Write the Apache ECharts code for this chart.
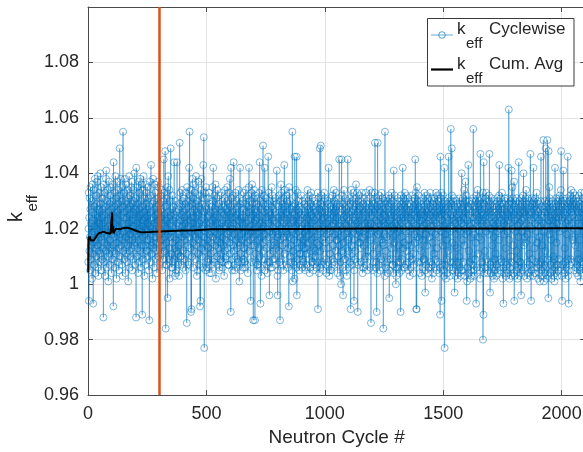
<!DOCTYPE html>
<html><head><meta charset="utf-8">
<script src="https://cdn.jsdelivr.net/npm/echarts@6/dist/echarts.min.js"></script>
<style>html,body{margin:0;padding:0;overflow:hidden;background:#fff;width:583px;height:452px}#c{width:600px;height:452px}</style>
</head><body><div id="c"></div><script>
// first neutron cycle number
const cycleStart = 1;
// k_eff per cycle, stored as (k_eff - 1) * 1000, one row = 50 cycles
const cyclewiseMilli = [
/* 1 */ 8,20,33,-6,24,12,31,17,5,27, 35,14,22,9,30,18,2,26,36,11, 23,-7,15,34,19,7,28,13,38,21, 4,25,16,32,10,29,20,37,6,24, 14,39,18,3,27,22,12,33,8,26,
/* 51 */ 17,40,11,29,21,5,35,16,24,9, 31,19,27,13,-12,22,36,8,25,15, 33,3,20,28,12,38,41,18,6,30, 23,14,34,10,26,1,19,37,21,11, 29,16,7,32,24,13,35,20,4,27,
/* 101 */ 18,30,9,25,36,14,-8,44,22,12, 28,17,33,6,24,39,11,20,31,2, 26,15,37,19,8,29,21,34,13,23, 5,32,17,49,10,27,18,38,14,25, 30,7,22,35,16,3,28,55,12,24,
/* 151 */ 33,19,9,26,38,15,21,4,30,17, 36,11,24,29,8,20,34,14,27,1, 22,31,16,39,12,25,6,32,18,28, 10,35,23,13,37,20,5,29,16,26, 34,9,21,30,14,40,19,7,27,23,
/* 201 */ 15,31,-12,42,18,26,10,35,22,13, 29,4,24,37,16,33,8,27,20,38, 12,25,6,30,19,36,14,21,-11,28, 17,34,9,23,39,11,26,3,31,18, 24,14,36,7,29,20,33,12,22,27,
/* 251 */ 16,35,10,25,19,31,5,28,-13,21, 37,14,26,8,32,43,18,23,11,14, 20,2,29,15,38,24,13,30,6,27, 22,36,17,9,33,19,25,20,12,28, 4,21,31,15,37,23,10,26,18,35,
/* 301 */ 13,29,20,18,8,24,32,16,27,11, 34,19,5,26,16,14,22,30,9,45, 21,33,12,25,17,48,28,-16,23,7, 15,31,7,20,35,-5,26,18,39,10, 24,9,13,34,2,22,30,17,49,25,
/* 351 */ 19,6,11,27,21,6,32,15,8,23, 28,9,17,44,25,13,3,20,30,4, 24,5,16,26,12,44,22,8,11,18, 7,14,27,21,3,29,51,19,10,33, 23,10,15,28,7,25,34,17,21,30,
/* 401 */ 12,26,6,19,31,9,24,18,16,29, 22,5,33,18,27,11,-14,35,20,25, 14,30,8,7,21,28,42,17,55,23, 32,13,26,19,-10,34,-9,24,10,29, 38,15,22,6,31,20,36,12,27,18,
/* 451 */ 33,24,9,29,17,39,14,26,21,3, 30,19,5,11,25,37,16,28,7,22, 32,18,-8,27,-6,34,23,13,38,20, 10,29,24,15,6,21,43,31,53,17, -23,26,12,33,19,28,5,35,22,14,
/* 501 */ 27,6,16,24,8,31,20,9,13,25, 33,18,4,29,22,7,11,26,19,4, 15,28,7,23,35,17,30,21,42,12, 26,8,9,32,19,24,14,36,27,2, 21,31,16,25,10,34,22,18,7,28,
/* 551 */ 13,29,24,5,6,20,32,15,27,9, 19,11,26,33,22,8,30,17,6,23, 14,28,8,20,3,25,31,12,34,21, 27,16,10,9,24,30,18,35,13,26, 22,7,7,29,19,33,15,25,38,11,
/* 601 */ 28,21,-10,42,17,31,24,9,5,20, 26,14,32,22,44,12,29,18,7,5, 24,33,16,27,10,6,21,30,13,25, 9,19,8,28,23,34,15,26,1,31, 20,42,14,29,5,11,24,18,8,22,
/* 651 */ 30,16,25,6,9,27,21,33,13,24, 8,19,6,29,17,34,22,11,31,26, 15,7,20,28,4,32,23,18,35,42, 12,26,30,16,19,21,-6,27,14,33, 24,8,36,19,29,17,25,-13,31,22,
/* 701 */ 34,14,27,20,-13,32,23,8,11,26, 18,5,29,7,24,31,16,7,21,28, 13,33,19,25,44,10,30,-7,22,6, 17,27,3,34,20,9,24,15,50,29, 21,12,32,26,18,42,9,5,23,28,
/* 751 */ 16,31,24,7,13,27,20,4,8,29, 46,22,33,17,26,-4,8,19,30,11, 25,6,14,28,21,35,6,24,32,18, 27,9,12,30,23,15,14,20,9,26, 31,19,7,25,13,29,41,22,17,3,
/* 801 */ -4,24,5,18,28,12,32,21,8,26, -13,30,16,25,36,20,9,33,23,29, 14,7,19,27,5,31,22,17,43,24, 34,11,28,20,19,15,26,32,7,23, 30,18,6,25,13,29,21,-8,35,27,
/* 851 */ 17,33,24,10,30,22,8,14,27,20, 5,26,55,19,1,12,28,23,7,16, 25,2,46,8,29,21,34,18,24,6, 46,-4,27,15,33,22,9,13,30,19, 26,5,11,28,23,7,17,11,20,25,
/* 901 */ 32,14,27,6,21,9,30,24,8,16, 25,13,19,29,6,22,5,26,13,31, 20,7,17,28,24,11,34,21,30,15, 27,9,23,18,32,4,26,6,20,29, 12,33,25,16,8,22,28,8,31,24,
/* 951 */ 19,5,27,13,30,23,7,17,26,12, 10,28,21,6,15,29,24,8,18,33, -9,25,31,20,14,4,27,22,49,12, 29,6,50,19,26,7,32,23,8,16, 28,21,5,13,30,24,17,33,26,20,
/* 1001 */ 31,15,27,7,22,9,4,25,18,30, 24,8,13,29,20,42,26,16,3,23, 11,5,28,19,31,25,5,6,21,27, 17,32,24,9,14,29,22,34,8,26, 30,18,7,23,27,12,33,20,28,16,
/* 1051 */ 16,29,24,4,19,31,10,26,7,22, 45,28,14,3,21,8,25,17,0,23, 45,12,32,27,20,6,-4,29,24,15, 34,22,9,18,28,9,31,25,5,21, 27,13,3,24,30,19,45,26,16,12,
/* 1101 */ 23,6,28,17,31,25,8,20,-9,29, 34,14,26,22,7,11,30,24,19,33, 27,21,-6,5,16,28,9,23,12,31, 25,36,18,29,22,8,33,26,-10,30, 20,7,24,15,32,27,19,15,28,23,
/* 1151 */ 13,30,25,8,21,33,17,27,6,4, 24,29,19,6,14,31,26,22,9,18, 28,10,33,25,7,20,30,15,27,5, 23,22,12,29,10,21,26,18,34,24, 31,16,6,22,-14,28,33,19,27,25,
/* 1201 */ 30,17,5,24,11,29,8,21,26,33, 14,51,27,20,6,23,31,8,-10,28, 25,4,51,18,30,22,7,13,27,32, 19,5,26,10,29,24,9,21,33,16, 28,6,23,31,15,27,-16,14,22,30,
/* 1251 */ 25,18,3,55,21,29,12,6,24,31, 17,27,8,22,30,9,4,26,20,32, 28,-5,5,23,16,31,25,9,19,29, 13,33,27,21,7,24,30,7,26,4, 41,20,28,15,32,25,6,22,18,0,
/* 1301 */ 27,3,21,11,29,6,24,19,31,26, 8,14,28,23,4,20,30,8,25,-10, 32,27,17,5,22,29,9,24,42,13, 26,31,20,6,15,28,23,33,6,30, 25,7,19,27,32,12,14,22,29,24,
/* 1351 */ 31,16,5,26,21,8,28,10,3,24, 29,19,6,23,27,14,32,25,9,20, 30,26,11,4,22,28,7,18,31,25, 15,45,27,33,21,-9,29,-9,35,24, 30,17,26,8,22,32,13,28,16,23,
/* 1401 */ 27,4,19,30,25,8,12,29,23,3, 20,6,26,16,31,24,9,21,28,9, 33,25,30,-3,27,5,18,32,22,7, 26,14,29,24,4,20,31,27,6,6, 23,30,17,28,33,25,8,21,31,26,
/* 1451 */ 19,2,27,7,15,29,24,4,21,30, 11,26,6,23,31,28,9,18,25,33, 22,29,5,13,27,32,20,8,26,24, 30,17,4,21,28,6,-11,46,25,31, 19,33,-6,27,7,23,29,14,32,26,
/* 1501 */ 5,21,28,3,42,-23,30,25,7,18, 27,2,22,9,16,29,24,4,20,31, 26,12,46,28,6,23,30,19,3,25, 8,56,21,29,27,49,32,15,5,24, 30,20,6,26,8,31,23,-3,14,28,
/* 1551 */ 22,3,27,7,18,30,25,5,13,29, 2,24,8,20,28,4,10,26,31,23, 6,19,29,3,25,5,30,40,22,27, 5,16,31,24,8,21,28,34,14,29, 26,3,20,37,24,30,18,32,-6,27,
/* 1601 */ 1,23,6,19,28,43,25,4,12,30, 27,8,21,2,24,17,5,29,22,3, 9,30,26,7,20,31,56,24,28,5, 18,3,27,22,9,26,30,15,-7,32, 25,6,21,29,34,23,31,11,28,17,
/* 1651 */ 24,30,19,5,27,2,47,22,29,6, 16,31,26,8,23,28,33,-20,25,-11, 44,29,21,4,27,12,6,24,31,19, 33,26,9,22,30,25,8,4,28,21, 5,27,32,18,47,30,24,-3,7,26,
/* 1701 */ 29,4,20,31,25,8,14,28,3,22, 6,27,30,17,2,24,9,21,26,5, 11,29,3,23,7,28,19,31,25,4, 22,30,27,6,16,32,43,24,29,20, 5,26,31,9,28,8,23,33,27,21,
/* 1751 */ 2,25,6,-7,29,22,4,27,18,31, 8,24,30,13,3,26,21,5,28,7, 19,31,25,4,42,23,63,29,16,2, 27,6,22,30,10,3,26,8,41,24, 29,35,20,31,27,14,4,25,37,-6,
/* 1801 */ 28,3,23,7,19,30,26,5,12,31, 24,9,27,2,21,29,6,17,44,25, 3,22,30,8,26,8,4,28,-4,31, 6,23,29,19,5,27,32,24,40,14, 30,26,3,21,17,28,15,31,25,34,
/* 1851 */ 22,6,29,2,18,27,8,24,31,26, 4,11,30,25,7,21,3,47,28,23, -6,5,26,31,20,9,29,16,3,27, 42,24,30,6,13,28,4,22,31,25, 8,19,27,33,29,6,15,24,30,21,
/* 1901 */ 2,26,7,23,29,4,17,1,27,8, 21,30,46,25,5,28,14,3,24,6, 9,22,52,27,1,19,7,26,4,30, 12,28,49,24,6,2,21,29,9,52, 26,3,27,-5,48,30,23,35,18,31,
/* 1951 */ 27,4,24,7,29,16,2,26,8,21, 30,5,23,28,10,3,27,9,25,1, 6,42,20,29,4,24,31,15,28,7, 22,3,26,30,7,5,28,24,9,31, 19,32,27,6,25,29,34,48,23,30,
/* 2001 */ 3,-6,28,7,24,31,41,26,5,20, 29,4,13,30,8,25,2,22,27,6, 18,31,26,9,28,46,23,3,29,-7, 5,27,30,21,7,24,32,9,28,34, 26,8,22,31,29,17,16,25,33,27,
/* 2051 */ 30,20,5,28,24,8,32,14,29,6, 23,31,27,4,19,7,26,30,11,3, 28,9,24,32,22,5,29,16,1,27, 6,21,33,26,8,30,8,28,4,25, 31,24,7,19,29,33,27,5,22,30
];
// cumulative average k_eff
const cumAvgCycles = [1,2,4,8,12,18,24,30,38,46,55,65,75,86,95,100,102,104,106,108,112,118,125,135,150,165,185,205,225,260,300,350,400,450,520,600,700,800,900,1000,1200,1400,1600,1800,2000,2100];
const cumAvgValues = [1.0043,1.0172,1.0160,1.0172,1.0158,1.0152,1.0158,1.0166,1.0176,1.0184,1.0186,1.0190,1.0186,1.0184,1.0182,1.0187,1.0259,1.0186,1.0210,1.0183,1.0192,1.0200,1.0193,1.0198,1.0203,1.0204,1.0199,1.0192,1.0187,1.0188,1.0190,1.0192,1.0194,1.0195,1.0198,1.0198,1.0197,1.0199,1.0199,1.0200,1.0201,1.0201,1.0201,1.0201,1.0202,1.0202];
// first active cycle (vertical marker)
const activeStartCycle = 300;
const xTickLabels = [0, 500, 1000, 1500, 2000];
const yTickLabels = [0.96, 0.98, 1, 1.02, 1.04, 1.06, 1.08];
const legendNames = ['Cyclewise', 'Cum. Avg'];

const cyc = cyclewiseMilli.map((m, i) => [cycleStart + i, +(1 + m / 1000).toFixed(3)]);
const cum = cumAvgCycles.map((c, i) => [c, cumAvgValues[i]]);

const FONT = "'Liberation Sans', Arial, Helvetica, sans-serif";
const TXT = '#262626', AX = '#4a4a4a', GRID = '#e3e3e3', BLUE = '#0072BD';
const axisBase = {
  axisLine: {show: true, onZero: false, lineStyle: {color: AX, width: 1}},
  axisTick: {show: true, inside: true, length: 5, lineStyle: {color: AX, width: 1}}
};

const chart = echarts.init(document.getElementById('c'), null, {renderer: 'canvas'});
chart.setOption({
  animation: false,
  backgroundColor: '#fff',
  textStyle: {fontFamily: FONT, color: TXT},
  grid: {left: 88, top: 7, width: 497.3, height: 391.3},
  xAxis: [
    Object.assign({
      type: 'value', min: 0, max: 2100, interval: 500,
      axisLabel: {margin: 10, fontSize: 18, color: TXT, fontFamily: FONT,
        formatter: v => xTickLabels.includes(v) ? String(v) : ''},
      splitLine: {show: true, lineStyle: {color: GRID, width: 1}},
      name: 'Neutron Cycle #', nameLocation: 'middle', nameGap: 29,
      nameTextStyle: {fontSize: 19, color: TXT, fontFamily: FONT}
    }, axisBase),
    Object.assign({
      type: 'value', position: 'top', min: 0, max: 2100, interval: 500,
      axisLabel: {show: false}, splitLine: {show: false}
    }, axisBase)
  ],
  yAxis: [
    Object.assign({
      type: 'value', min: 0.96, max: 1.1, interval: 0.02,
      axisLabel: {margin: 9, fontSize: 18, color: TXT, fontFamily: FONT,
        formatter: v => {
          const hit = yTickLabels.find(t => Math.abs(t - v) < 1e-6);
          return hit === undefined ? '' : String(hit);
        }},
      splitLine: {show: true, lineStyle: {color: GRID, width: 1}}
    }, axisBase),
    Object.assign({
      type: 'value', position: 'right', min: 0.96, max: 1.1, interval: 0.02,
      axisLabel: {show: false}, splitLine: {show: false}
    }, axisBase)
  ],
  graphic: [
    // y-axis title k_eff (rotated)
    {type: 'group', x: 26, y: 222, rotation: Math.PI / 2, silent: true, children: [
      {type: 'text', x: 0, y: 0, style: {text: 'k', fill: TXT, font: '20px ' + FONT, textAlign: 'left', textVerticalAlign: 'bottom'}},
      {type: 'text', x: 10.5, y: 14, style: {text: 'eff', fill: TXT, font: '15px ' + FONT, textAlign: 'left', textVerticalAlign: 'bottom'}}
    ]},
    // legend box
    {type: 'rect', z: 90, silent: true, shape: {x: 427.5, y: 18.5, width: 146.5, height: 67.5},
      style: {fill: '#fff', stroke: '#3a3a3a', lineWidth: 1}},
    {type: 'line', z: 91, silent: true, shape: {x1: 431, y1: 35, x2: 453, y2: 35}, style: {stroke: BLUE, lineWidth: 0.7, opacity: 0.85}},
    {type: 'circle', z: 91, silent: true, shape: {cx: 442, cy: 35, r: 3.3}, style: {fill: 'none', stroke: BLUE, lineWidth: 0.8, opacity: 0.85}},
    {type: 'line', z: 91, silent: true, shape: {x1: 431, y1: 69.5, x2: 453, y2: 69.5}, style: {stroke: '#000', lineWidth: 2.2}},
    {type: 'text', z: 92, silent: true, x: 457, y: 38, style: {text: 'k', fill: TXT, font: '17px ' + FONT, textVerticalAlign: 'bottom'}},
    {type: 'text', z: 92, silent: true, x: 466, y: 51, style: {text: 'eff', fill: TXT, font: '15px ' + FONT, textVerticalAlign: 'bottom'}},
    {type: 'text', z: 92, silent: true, x: 489, y: 38, style: {text: legendNames[0], fill: TXT, font: '17px ' + FONT, textVerticalAlign: 'bottom'}},
    {type: 'text', z: 92, silent: true, x: 457, y: 73, style: {text: 'k', fill: TXT, font: '17px ' + FONT, textVerticalAlign: 'bottom'}},
    {type: 'text', z: 92, silent: true, x: 466, y: 86, style: {text: 'eff', fill: TXT, font: '15px ' + FONT, textVerticalAlign: 'bottom'}},
    {type: 'text', z: 92, silent: true, x: 489, y: 73, style: {text: legendNames[1], fill: TXT, font: '17px ' + FONT, textVerticalAlign: 'bottom'}}
  ],
  series: [
    {
      name: 'cyclewise', type: 'line', data: cyc, xAxisIndex: 0, yAxisIndex: 0,
      symbol: 'circle', symbolSize: 7, showSymbol: true, showAllSymbol: true,
      lineStyle: {color: BLUE, width: 0.5, opacity: 0.85},
      itemStyle: {color: 'rgba(255,255,255,0)', borderColor: BLUE, borderWidth: 0.6, opacity: 0.85},
      emphasis: {disabled: true}, silent: true, z: 2
    },
    {
      name: 'cumavg', type: 'line', data: cum, xAxisIndex: 0, yAxisIndex: 0,
      symbol: 'none', showSymbol: false,
      lineStyle: {color: '#000', width: 2}, itemStyle: {color: '#000'},
      emphasis: {disabled: true}, silent: true, z: 3
    },
    {
      name: 'active', type: 'line', data: [], xAxisIndex: 0, yAxisIndex: 0, z: 4,
      markLine: {
        silent: true, symbol: ['none', 'none'], label: {show: false},
        lineStyle: {color: '#D95319', width: 2.5, type: 'solid'},
        emphasis: {disabled: true},
        data: [{xAxis: activeStartCycle}]
      }
    }
  ]
});
</script></body></html>
